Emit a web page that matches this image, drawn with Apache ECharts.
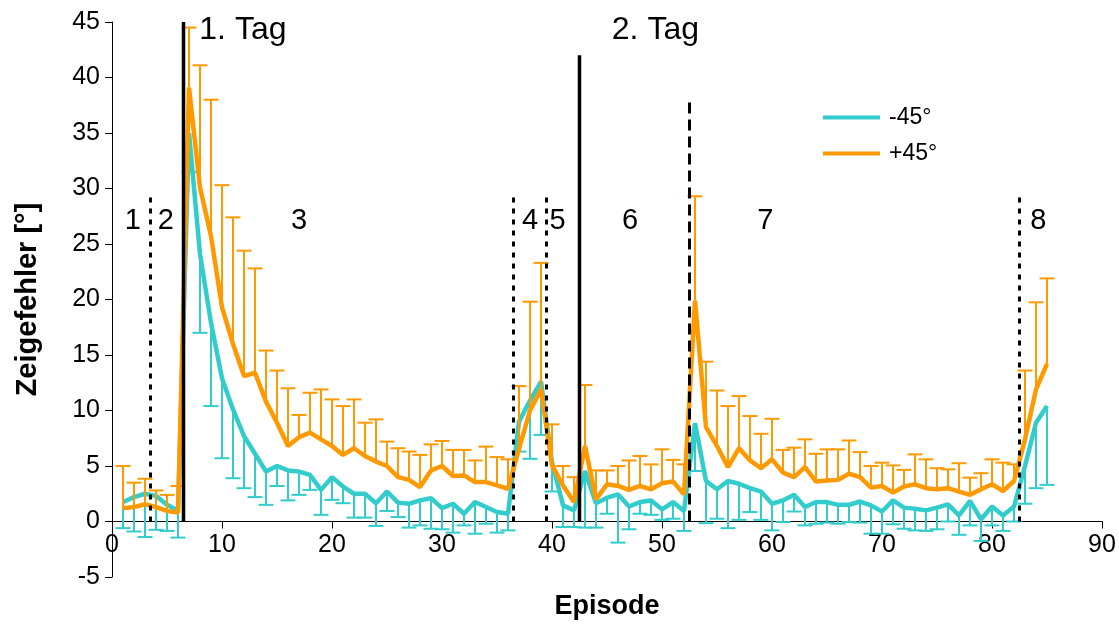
<!DOCTYPE html>
<html>
<head>
<meta charset="utf-8">
<script src="https://cdn.jsdelivr.net/npm/echarts@6/dist/echarts.min.js"></script>
<style>
  html, body { margin: 0; padding: 0; background: #ffffff; }
  #chart { width: 1119px; height: 624px; }
</style>
</head>
<body>
<div id="chart"></div>
<script>
// Episode numbers (x values)
const episodes = [
   1,  2,  3,  4,  5,  6,  7,  8,  9, 10, 11, 12, 13, 14, 15, 16, 17,
  18, 19, 20, 21, 22, 23, 24, 25, 26, 27, 28, 29, 30, 31, 32, 33, 34,
  35, 36, 37, 38, 39, 40, 41, 42, 43, 44, 45, 46, 47, 48, 49, 50, 51,
  52, 53, 54, 55, 56, 57, 58, 59, 60, 61, 62, 63, 64, 65, 66, 67, 68,
  69, 70, 71, 72, 73, 74, 75, 76, 77, 78, 79, 80, 81, 82, 83, 84, 85
];

// Mean pointing error, -45° condition
const minusMean = [
  1.75, 2.2, 2.5, 2.3, 1.5, 1.0, 35.0, 24.1, 17.9, 12.9, 10.1, 7.7, 6.1, 4.5, 5.0, 4.6, 4.5,
  4.2, 2.85, 4.0, 3.15, 2.5, 2.5, 1.65, 2.7, 1.7, 1.6, 1.9, 2.1, 1.2, 1.6, 0.7, 1.75, 1.3,
  0.85, 0.7, 9.0, 10.9, 12.6, 5.35, 1.45, 1.0, 4.55, 1.65, 2.15, 2.45, 1.35, 1.75, 1.9, 1.1, 1.75,
  0.95, 8.85, 3.65, 2.9, 3.65, 3.4, 3.0, 2.7, 1.6, 1.9, 2.4, 1.3, 1.75, 1.75, 1.5, 1.5, 1.8,
  1.45, 0.9, 1.9, 1.25, 1.15, 1.0, 1.25, 1.55, 0.55, 1.85, 0.2, 1.35, 0.55, 1.35, 5.0, 8.9, 10.4
];
// Standard deviation, -45° (drawn downwards)
const minusSd = [
  2.35, 3.1, 3.9, 3.05, 2.35, 2.45, 3.5, 7.1, 7.5, 7.2, 6.2, 4.7, 3.9, 3.0, 1.8, 2.7, 2.1,
  1.35, 2.25, 2.05, 1.5, 2.15, 2.15, 2.05, 1.75, 1.3, 2.15, 2.25, 2.75, 1.9, 2.6, 1.05, 2.85, 1.5,
  1.85, 1.5, 2.7, 5.25, 4.8, 2.65, 1.95, 1.5, 5.1, 2.2, 1.45, 4.35, 2.05, 1.05, 1.3, 0.95, 1.5,
  1.8, 4.3, 3.8, 2.65, 4.25, 3.25, 2.15, 2.55, 2.4, 1.95, 1.5, 1.65, 1.95, 1.85, 1.7, 1.55, 1.9,
  2.55, 2.0, 2.15, 1.9, 1.95, 1.85, 1.95, 1.55, 1.75, 2.2, 1.95, 1.7, 1.4, 1.35, 3.4, 5.9, 7.1
];

// Mean pointing error, +45° condition
const plusMean = [
  1.2, 1.3, 1.55, 1.3, 0.95, 0.8, 39.1, 30.1, 25.7, 19.3, 16.0, 13.1, 13.4, 10.8, 8.9, 6.8, 7.6,
  8.0, 7.4, 6.8, 6.0, 6.6, 5.9, 5.4, 5.0, 4.0, 3.75, 3.1, 4.6, 5.0, 4.1, 4.15, 3.55, 3.55,
  3.25, 2.95, 6.55, 10.0, 11.9, 5.05, 3.25, 1.75, 6.8, 2.0, 3.35, 3.2, 2.85, 3.2, 2.9, 3.45, 3.6,
  2.45, 19.9, 8.5, 6.8, 4.9, 6.6, 5.5, 4.8, 5.6, 4.4, 4.0, 4.9, 3.6, 3.7, 3.75, 4.3, 4.0,
  3.05, 3.2, 2.6, 3.15, 3.35, 3.0, 2.9, 3.0, 2.7, 2.4, 2.9, 3.35, 2.75, 3.65, 7.4, 11.9, 14.2
];
// Standard deviation, +45° (drawn upwards)
const plusSd = [
  3.8, 2.2, 2.3, 1.5, 1.45, 2.4, 5.4, 11.0, 12.3, 11.0, 11.4, 11.3, 9.4, 4.6, 4.7, 5.2, 2.0,
  3.6, 4.5, 4.2, 4.4, 4.4, 3.0, 3.8, 2.2, 2.6, 2.55, 2.9, 2.35, 2.25, 2.35, 2.3, 1.95, 3.2,
  2.55, 2.65, 5.65, 9.8, 11.4, 3.7, 1.75, 2.25, 5.5, 2.6, 1.25, 1.8, 2.65, 2.7, 2.25, 3.05, 1.95,
  2.7, 9.4, 5.9, 5.0, 5.5, 4.7, 4.0, 3.1, 3.65, 2.05, 2.65, 2.5, 2.5, 2.8, 2.75, 3.0, 2.25,
  1.95, 2.1, 2.45, 1.5, 2.7, 2.6, 1.9, 1.7, 2.55, 1.55, 1.45, 2.25, 2.55, 1.5, 6.2, 7.85, 7.7
];

// Axis ticks
const xTicks = [0, 10, 20, 30, 40, 50, 60, 70, 80, 90];
const yTicks = [-5, 0, 5, 10, 15, 20, 25, 30, 35, 40, 45];

// Phase boundaries: [episode boundary, top value]
const dayBoundaries = [[6.5, 45], [42.5, 42]];
const phaseBoundaries = [[3.5, 29.5], [36.5, 29.5], [39.5, 29.5], [82.5, 29.5]];
const feedbackBoundaries = [[52.5, 38]];

// Phase labels: [x, y, text]
const phaseLabels = [
  [1.9, 27.1, '1'], [4.9, 27.1, '2'], [17.0, 27.1, '3'], [38.0, 27.1, '4'],
  [40.5, 27.1, '5'], [47.1, 27.1, '6'], [59.4, 27.1, '7'], [84.2, 27.1, '8']
];
const dayLabels = [[11.9, 44.3, '1. Tag'], [49.4, 44.3, '2. Tag']];

const CYAN = '#33CCCC';
const ORANGE = '#FF9900';
const FONT = '"Liberation Sans", Arial, sans-serif';

const GRID_TOP = 22;
const GRID_BOTTOM = 47;
const CHART_H = 624;

const zip = (xs, ys) => xs.map((x, i) => [x, ys[i]]);
const zip3 = (xs, ys, zs) => xs.map((x, i) => [x, ys[i], zs[i]]);

// The x axis sits on the zero line: shift it up from the grid bottom by the height of the range below zero
const yMin = yTicks[0], yMax = yTicks[yTicks.length - 1];
const plotH = CHART_H - GRID_TOP - GRID_BOTTOM;
const xAxisOffset = -plotH * (0 - yMin) / (yMax - yMin);

function errorBars(dir, color) {
  return function (params, api) {
    const x = api.value(0), m = api.value(1), e = api.value(2);
    const p0 = api.coord([x, m]);
    const p1 = api.coord([x, m + dir * e]);
    const half = 7.5;
    const style = { stroke: color, lineWidth: 2 };
    return {
      type: 'group',
      children: [
        { type: 'line', shape: { x1: p0[0], y1: p0[1], x2: p1[0], y2: p1[1] }, style },
        { type: 'line', shape: { x1: p1[0] - half, y1: p1[1], x2: p1[0] + half, y2: p1[1] }, style }
      ]
    };
  };
}

function verticalLine(width, dash) {
  return function (params, api) {
    const x = api.value(0), top = api.value(1);
    const a = api.coord([x, 0]);
    const b = api.coord([x, top]);
    return {
      type: 'line',
      shape: { x1: a[0], y1: a[1], x2: b[0], y2: b[1] },
      style: { stroke: '#000000', lineWidth: width, lineDash: dash }
    };
  };
}

function textItems(labels, size) {
  return function (params, api) {
    const p = api.coord([api.value(0), api.value(1)]);
    return {
      type: 'text',
      x: p[0], y: p[1],
      style: {
        text: labels[params.dataIndex][2],
        fill: '#000000',
        font: size + 'px ' + FONT,
        align: 'center',
        verticalAlign: 'middle'
      }
    };
  };
}

const chart = echarts.init(document.getElementById('chart'), null, { renderer: 'canvas' });

chart.setOption({
  animation: false,
  backgroundColor: '#ffffff',
  textStyle: { fontFamily: FONT },
  grid: { left: 112, right: 17, top: GRID_TOP, bottom: GRID_BOTTOM, containLabel: false, outerBoundsMode: 'none' },
  legend: {
    data: ['-45°', '+45°'],
    orient: 'vertical',
    left: 818,
    top: 101,
    icon: 'rect',
    itemWidth: 57,
    itemHeight: 4,
    itemGap: 13,
    textStyle: { fontSize: 23, color: '#000', fontFamily: FONT, padding: [0, 0, 0, 4] }
  },
  xAxis: {
    type: 'value',
    position: 'bottom',
    offset: xAxisOffset,
    min: xTicks[0],
    max: xTicks[xTicks.length - 1],
    interval: 10,
    name: 'Episode',
    nameLocation: 'middle',
    nameGap: 72,
    nameTextStyle: { fontSize: 27, fontWeight: 'bold', color: '#000', fontFamily: FONT },
    axisLine: { onZero: false, lineStyle: { color: '#000', width: 1 } },
    axisTick: { inside: false, length: 7, lineStyle: { color: '#000' } },
    axisLabel: { fontSize: 25, color: '#000', margin: 11, fontFamily: FONT },
    splitLine: { show: false }
  },
  yAxis: {
    type: 'value',
    min: yMin,
    max: yMax,
    interval: 5,
    name: 'Zeigefehler [°]',
    nameLocation: 'middle',
    nameGap: 70,
    nameTextStyle: { fontSize: 29, fontWeight: 'bold', color: '#000', fontFamily: FONT },
    axisLine: { show: true, onZero: false, lineStyle: { color: '#000', width: 1 } },
    axisTick: { show: true, length: 7, lineStyle: { color: '#000' } },
    axisLabel: { fontSize: 25, color: '#000', margin: 12, fontFamily: FONT },
    splitLine: { show: false }
  },
  series: [
    {
      name: 'minusErr', type: 'custom', renderItem: errorBars(-1, CYAN),
      data: zip3(episodes, minusMean, minusSd), z: 2, silent: true
    },
    {
      name: '-45°', type: 'line', data: zip(episodes, minusMean),
      symbol: 'none', lineStyle: { color: CYAN, width: 4.5 }, itemStyle: { color: CYAN }, z: 3
    },
    {
      name: 'plusErr', type: 'custom', renderItem: errorBars(1, ORANGE),
      data: zip3(episodes, plusMean, plusSd), z: 4, silent: true
    },
    {
      name: '+45°', type: 'line', data: zip(episodes, plusMean),
      symbol: 'none', lineStyle: { color: ORANGE, width: 4.5 }, itemStyle: { color: ORANGE }, z: 5
    },
    {
      name: 'days', type: 'custom', renderItem: verticalLine(3.5, null),
      data: dayBoundaries, z: 6, silent: true
    },
    {
      name: 'phases', type: 'custom', renderItem: verticalLine(3, [5, 6]),
      data: phaseBoundaries, z: 6, silent: true
    },
    {
      name: 'feedback', type: 'custom', renderItem: verticalLine(3, [11, 6]),
      data: feedbackBoundaries, z: 6, silent: true
    },
    {
      name: 'phaseText', type: 'custom', renderItem: textItems(phaseLabels, 29),
      data: phaseLabels.map(d => [d[0], d[1]]), z: 7, silent: true
    },
    {
      name: 'dayText', type: 'custom', renderItem: textItems(dayLabels, 32),
      data: dayLabels.map(d => [d[0], d[1]]), z: 7, silent: true
    }
  ]
});
</script>
</body>
</html>
